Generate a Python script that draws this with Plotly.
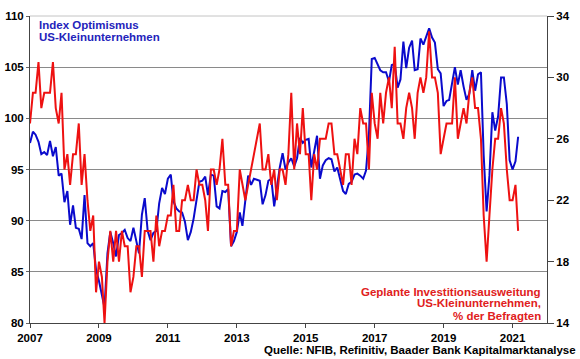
import plotly.graph_objects as go
import pandas as pd

start_month = "2007-01-01"

# NFIB small business optimism index (left axis), monthly from Jan 2007
optimism_index = [
    97.6, 98.7, 98.4, 97.7, 96.5, 96.7, 96.4, 97.8, 96.3, 97.2, 94.4, 94.6,   # 2007
    91.8, 92.9, 89.6, 91.5, 89.3, 89.2, 88.2, 92.5, 87.8, 87.5, 87.8, 85.2,   # 2008
    84.1, 82.6, 81.5, 86.8, 88.9, 87.8, 86.5, 88.6, 88.8, 89.1, 88.3, 88.0,   # 2009
    89.3, 88.0, 86.8, 90.6, 92.2, 89.0, 88.1, 88.8, 89.0, 91.7, 93.2, 92.6,   # 2010
    94.1, 94.5, 91.9, 91.2, 90.9, 90.8, 89.9, 88.1, 88.9, 90.2, 92.0, 93.8,   # 2011
    93.9, 94.3, 92.5, 94.5, 94.4, 91.4, 91.2, 92.9, 92.8, 93.1, 87.5, 88.0,   # 2012
    88.9, 90.8, 89.5, 92.1, 94.4, 93.5, 94.1, 94.0, 93.9, 91.6, 92.5, 93.9,   # 2013
    94.1, 91.4, 93.4, 95.2, 96.6, 95.0, 95.7, 96.1, 95.3, 96.1, 98.1, 97.6,   # 2014
    97.9, 98.0, 95.2, 96.9, 98.3, 94.1, 95.4, 95.9, 96.1, 96.0, 94.8, 95.2,   # 2015
    93.9, 92.9, 92.6, 93.6, 93.8, 94.5, 94.6, 94.4, 94.1, 94.9, 98.4, 105.8,  # 2016
    105.9, 105.3, 104.7, 104.5, 104.5, 103.6, 105.2, 105.3, 103.0, 103.8, 107.5, 104.9,  # 2017
    106.9, 107.6, 104.7, 104.8, 107.8, 107.2, 107.9, 108.8, 107.9, 107.4, 104.8, 104.4,  # 2018
    101.2, 101.7, 101.8, 103.5, 105.0, 103.3, 104.7, 103.1, 101.8, 102.4, 104.7, 102.7,  # 2019
    104.3, 104.5, 96.4, 90.9, 94.4, 100.6, 98.8, 100.2, 104.0, 104.0, 101.4, 95.9,  # 2020
    95.0, 95.8, 98.2,                                                          # 2021
]

# Planned capital expenditures, % of respondents (right axis)
capex_plans = [
    27, 29, 29, 31, 28, 29, 29, 29, 31, 28, 27, 29,   # 2007
    24, 25, 23, 25, 25, 27, 23, 25, 22, 20, 21, 16,   # 2008
    18, 17, 14, 18, 20, 18, 20, 18, 20, 19, 19, 16,   # 2009
    17, 19, 19, 17, 20, 20, 20, 18, 21, 19, 20, 20,   # 2010
    21, 21, 23, 20, 20, 22, 22, 23, 22, 22, 24, 23,   # 2011
    23, 22, 20, 24, 24, 23, 24, 26, 23, 23, 19, 20,   # 2012
    20, 24, 23, 22, 23, 24, 25, 26, 27, 24, 24, 25,   # 2013
    23, 24, 22, 24, 24, 23, 25, 29, 24, 27, 25, 28,   # 2014
    25, 25, 22, 25, 24, 26, 26, 26, 27, 27, 25, 25,   # 2015
    24, 23, 25, 25, 23, 26, 25, 28, 27, 27, 24, 29,   # 2016
    27, 26, 29, 27, 29, 30, 28, 32, 27, 27, 26, 28,   # 2017
    29, 28, 26, 29, 30, 29, 30, 33, 30, 30, 29, 25,   # 2018
    26, 27, 27, 27, 30, 26, 27, 28, 27, 29, 30, 28,   # 2019
    28, 26, 21, 18, 21, 24, 26, 26, 28, 27, 24, 22,   # 2020
    22, 23, 20,                                       # 2021
]

year_ticks = ["2007", "2009", "2011", "2013", "2015", "2017", "2019", "2021"]
left_ticks = [80, 85, 90, 95, 100, 105, 110]
right_ticks = [14, 18, 22, 26, 30, 34]

months = pd.date_range(start_month, periods=len(optimism_index), freq="MS")
FONT = "Arial, Liberation Sans, sans-serif"
BLUE = "#0A0ACC"
RED = "#EE1111"

fig = go.Figure()
fig.add_trace(go.Scatter(x=months, y=optimism_index, mode="lines",
                         line=dict(color=BLUE, width=2), yaxis="y", name="Index Optimismus"))
fig.add_trace(go.Scatter(x=months, y=capex_plans, mode="lines",
                         line=dict(color=RED, width=2), yaxis="y2", name="Geplante Investitionsausweitung"))

tickfont = dict(family=FONT, size=11.5, color="black", weight="bold")

fig.update_layout(
    width=580, height=359,
    margin=dict(l=30, r=33, t=16, b=36, autoexpand=False),
    paper_bgcolor="white", plot_bgcolor="white",
    showlegend=False,
    font=dict(family=FONT, size=11.5),
    xaxis=dict(
        type="date",
        range=["2007-01-01", "2022-01-01"],
        tickvals=[f"{y}-01-01" for y in year_ticks],
        ticktext=year_ticks,
        ticks="outside", ticklen=4, tickcolor="#444444",
        showline=True, linecolor="#444444", linewidth=1,
        showgrid=False, zeroline=False, automargin=False,
        tickfont=tickfont,
    ),
    yaxis=dict(
        range=[80, 110],
        tickvals=left_ticks,
        ticks="outside", ticklen=3, tickcolor="#666666",
        showline=True, linecolor="#444444", linewidth=1,
        showgrid=True, gridcolor="#8a8a8a", gridwidth=1,
        zeroline=False, automargin=False,
        tickfont=tickfont,
    ),
    yaxis2=dict(
        range=[14, 34],
        tickvals=right_ticks,
        overlaying="y", side="right",
        ticks="outside", ticklen=6, tickcolor="#444444",
        showline=True, linecolor="#444444", linewidth=1,
        showgrid=False, zeroline=False, automargin=False,
        tickfont=tickfont,
    ),
)

# lighter top border line (as in the reference)
fig.add_shape(type="line", xref="paper", yref="paper", x0=0, x1=1, y0=1, y1=1,
              line=dict(color="#c4c4c4", width=1), layer="below")

ann_font_blue = dict(family=FONT, size=11.5, color="#2323BB", weight="bold")
ann_font_red = dict(family=FONT, size=11.5, color="#E02020", weight="bold")

for txt, yy in [("Index Optimismus", 0.971), ("US-Kleinunternehmen", 0.930)]:
    fig.add_annotation(text=txt, xref="paper", yref="paper", x=0.013, y=yy,
                       xanchor="left", yanchor="middle", showarrow=False, font=ann_font_blue)

for txt, yy in [("Geplante Investitionsausweitung", 0.102),
                ("US-Kleinunternehmen,", 0.064),
                ("% der Befragten", 0.023)]:
    fig.add_annotation(text=txt, xref="paper", yref="paper", x=0.993, y=yy,
                       xanchor="right", yanchor="middle", showarrow=False, font=ann_font_red)

fig.add_annotation(text="Quelle: NFIB, Refinitiv, Baader Bank Kapitalmarktanalyse",
                   xref="paper", yref="paper", x=1.06, y=-0.088,
                   xanchor="right", yanchor="middle", showarrow=False,
                   font=dict(family=FONT, size=11.5, color="black", weight="bold"))

fig.write_html("out.html", config={"displayModeBar": False},
               post_script="document.body.style.margin='0px';")
